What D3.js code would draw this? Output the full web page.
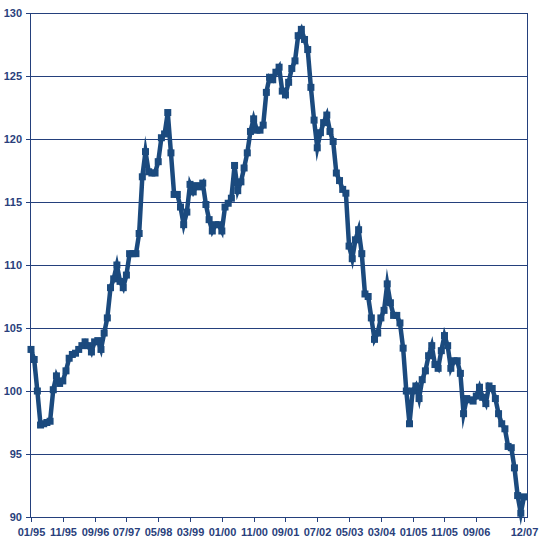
<!DOCTYPE html>
<meta charset="utf-8">
<script src="https://d3js.org/d3.v7.min.js"></script>
<style>
  body { margin: 0; background: #fff; }
  text { font-family: Arial, "Liberation Sans", sans-serif; font-weight: bold; font-size: 11px; fill: #2a3f7c; }
</style>
<svg id="chart" width="545" height="545"></svg>
<script>

// monthly index values, 01/95 .. 12/07
var values = [
  103.3, 102.5, 100.0, 97.3, 97.4, 97.5, 97.6, 100.1, 101.2, 100.6, 100.8, 101.6,   // 1995
  102.6, 102.9, 103.0, 103.3, 103.6, 103.9, 103.6, 103.1, 103.9, 104.0, 103.3, 104.6, // 1996
  105.8, 108.2, 108.9, 110.0, 108.7, 108.2, 109.2, 110.9, 110.9, 110.9, 112.5, 117.0, // 1997
  119.0, 117.4, 117.3, 117.3, 118.2, 120.1, 120.4, 122.1, 118.9, 115.6, 115.6, 114.6, // 1998
  113.2, 114.2, 116.4, 115.8, 116.3, 116.2, 116.5, 114.8, 113.6, 112.7, 113.2, 113.2, // 1999
  112.7, 114.6, 114.9, 115.3, 117.9, 115.9, 116.6, 117.7, 118.9, 120.6, 121.6, 120.7, // 2000
  120.7, 121.1, 123.7, 124.9, 124.7, 125.3, 125.7, 123.8, 123.5, 124.5, 125.6, 126.2, // 2001
  128.2, 128.7, 127.9, 127.1, 124.1, 121.5, 119.3, 120.5, 121.3, 121.9, 120.6, 119.8, // 2002
  117.3, 116.7, 116.0, 115.7, 111.5, 110.5, 112.0, 112.8, 110.9, 107.7, 107.5, 105.8, // 2003
  104.1, 104.6, 105.8, 106.4, 108.5, 107.0, 106.0, 106.0, 105.4, 103.4, 100.0, 97.4,  // 2004
  100.0, 100.4, 99.4, 100.9, 101.6, 102.8, 103.6, 102.1, 101.8, 103.2, 104.4, 103.6, // 2005
  101.8, 102.4, 102.4, 101.4, 98.2, 99.4, 99.3, 99.2, 99.6, 100.3, 99.5, 99.0,       // 2006
  100.4, 100.2, 99.4, 98.2, 97.4, 97.0, 95.6, 95.5, 93.9, 91.7, 90.3, 91.6           // 2007
];

// x tick positions (month index) and labels
var tickIndex = [0, 10, 20, 30, 40, 50, 60, 70, 80, 90, 100, 110, 120, 130, 140, 155];
var tickLabels = ["01/95", "11/95", "09/96", "07/97", "05/98", "03/99", "01/00", "11/00",
                  "09/01", "07/02", "05/03", "03/04", "01/05", "11/05", "09/06", "12/07"];

// y ticks
var yTicks = [90, 95, 100, 105, 110, 115, 120, 125, 130];

var svg = d3.select("#chart");
var plotL = 30, plotR = 527, plotT = 13, plotB = 517;
var navy = "#24407c";
var lineColor = "#1b4a7e";

var x = d3.scaleLinear().domain([0, 155]).range([31, 524]);
var y = d3.scaleLinear().domain([90, 130]).range([plotB, plotT]);

// horizontal grid lines
svg.append("g")
  .selectAll("line")
  .data(yTicks)
  .enter()
  .append("line")
    .attr("x1", plotL - 4)
    .attr("x2", plotR)
    .attr("y1", function(d) { return Math.round(y(d)) + 0.5; })
    .attr("y2", function(d) { return Math.round(y(d)) + 0.5; })
    .attr("stroke", navy)
    .attr("stroke-width", 1);

// y labels
svg.append("g")
  .selectAll("text")
  .data(yTicks)
  .enter()
  .append("text")
    .attr("x", plotL - 8)
    .attr("y", function(d) { return y(d); })
    .attr("dy", "0.36em")
    .attr("text-anchor", "end")
    .text(function(d) { return d; });

// left axis and right border
svg.append("line")
  .attr("x1", plotL + 0.5).attr("x2", plotL + 0.5)
  .attr("y1", plotT).attr("y2", plotB + 1)
  .attr("stroke", navy);
svg.append("line")
  .attr("x1", plotR + 0.5).attr("x2", plotR + 0.5)
  .attr("y1", plotT).attr("y2", plotB + 1)
  .attr("stroke", navy);

// x ticks and labels
var xt = svg.append("g")
  .selectAll("g")
  .data(tickIndex)
  .enter()
  .append("g")
    .attr("transform", function(d) { return "translate(" + (Math.round(x(d)) + 0.5) + ",0)"; });
xt.append("line")
  .attr("y1", plotB)
  .attr("y2", plotB + 5)
  .attr("stroke", navy);
xt.append("text")
  .attr("y", plotB + 19)
  .attr("text-anchor", "middle")
  .text(function(d, i) { return tickLabels[i]; });

// the line
var line = d3.line()
  .x(function(d, i) { return x(i); })
  .y(function(d) { return y(d); });

svg.append("path")
  .datum(values)
  .attr("d", line)
  .attr("fill", "none")
  .attr("stroke", lineColor)
  .attr("stroke-width", 4.5)
  .attr("stroke-linejoin", "miter")
  .attr("stroke-miterlimit", 8);

// square markers
svg.append("g")
  .selectAll("rect")
  .data(values)
  .enter()
  .append("rect")
    .attr("x", function(d, i) { return x(i) - 3.5; })
    .attr("y", function(d) { return y(d) - 3.5; })
    .attr("width", 7)
    .attr("height", 7)
    .attr("fill", lineColor);

</script>
